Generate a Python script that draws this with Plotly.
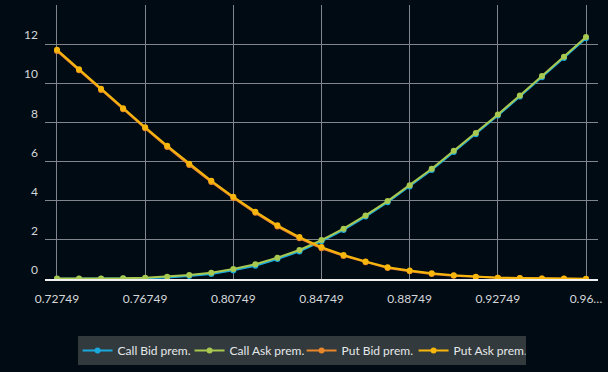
import plotly.graph_objects as go

strikes = [round(0.72749 + 0.01 * i, 5) for i in range(25)]

call_ask = [0.03, 0.03, 0.03, 0.04, 0.07, 0.12, 0.20, 0.32, 0.51, 0.75, 1.09, 1.48, 1.99, 2.57,
            3.25, 3.98, 4.79, 5.63, 6.55, 7.46, 8.41, 9.38, 10.37, 11.35, 12.36]
call_bid = [0.01, 0.01, 0.01, 0.02, 0.04, 0.08, 0.15, 0.26, 0.44, 0.68, 1.02, 1.41, 1.93, 2.51,
            3.19, 3.92, 4.73, 5.57, 6.49, 7.40, 8.35, 9.32, 10.31, 11.29, 12.30]
put_ask = [11.71, 10.72, 9.72, 8.73, 7.76, 6.81, 5.89, 5.02, 4.20, 3.44, 2.74, 2.14, 1.63, 1.23,
           0.89, 0.60, 0.43, 0.29, 0.19, 0.12, 0.07, 0.05, 0.03, 0.02, 0.01]
put_bid = [11.65, 10.66, 9.66, 8.67, 7.70, 6.75, 5.83, 4.96, 4.14, 3.38, 2.68, 2.08, 1.57, 1.18,
           0.85, 0.56, 0.40, 0.26, 0.17, 0.10, 0.06, 0.04, 0.02, 0.01, 0.00]

x_tickvals = [0.72749, 0.76749, 0.80749, 0.84749, 0.88749, 0.92749, 0.96749]
x_ticktext = ["0.72749", "0.76749", "0.80749", "0.84749", "0.88749", "0.92749", "0.96…"]
y_tickvals = [0, 2, 4, 6, 8, 10, 12]

series = [
    ("Call Bid prem.", call_bid, "#1aa9dc"),
    ("Call Ask prem.", call_ask, "#a8c850"),
    ("Put Bid prem.", put_bid, "#e8862c"),
    ("Put Ask prem.", put_ask, "#f6b60c"),
]

fig = go.Figure()
for name, vals, color in series:
    fig.add_trace(go.Scatter(
        x=strikes, y=vals, name=name, mode="lines+markers",
        line=dict(color=color, width=2),
        marker=dict(color=color, size=6),
    ))

bg = "#010b13"
grid = "#80868b"
fig.update_layout(
    width=608, height=372,
    paper_bgcolor=bg, plot_bgcolor=bg,
    margin=dict(l=45, r=10, t=5, b=93),
    font=dict(family="Lato", size=12, color="#d4d7da"),
    showlegend=True,
    legend=dict(
        orientation="h", xref="container", yref="container",
        x=0.496, xanchor="center", y=0.058, yanchor="middle",
        bgcolor="#323a3d", font=dict(family="Lato", size=12, color="#e6e8ea"),
        entrywidth=67, itemwidth=30,
    ),
    xaxis=dict(
        range=[0.72205, 0.97293], tickvals=x_tickvals, ticktext=x_ticktext,
        showgrid=True, gridcolor=grid, gridwidth=1, zeroline=False,
        showline=True, linecolor="#f0f0f0", linewidth=1.5,
        ticks="", ticklabelstandoff=8,
    ),
    yaxis=dict(
        range=[0, 14], tickvals=y_tickvals,
        showgrid=True, gridcolor=grid, gridwidth=1, zeroline=False,
        showline=False, ticks="", ticklabelstandoff=6, ticklabelshift=-9,
    ),
)

fig.write_html(
    "out.html",
    config={"displayModeBar": False},
    post_script="document.body.style.margin='0px';document.body.style.background='#010b13';",
)
